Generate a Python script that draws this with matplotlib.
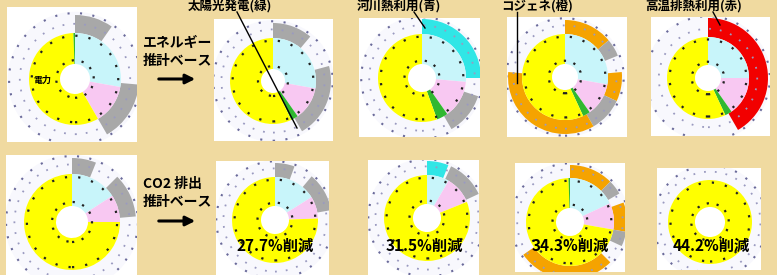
import matplotlib
matplotlib.use("Agg")
import matplotlib.pyplot as plt
from matplotlib.patches import Circle

plt.rcParams['font.family'] = ['Noto Sans CJK JP', 'DejaVu Sans']

W, H = 777, 275
BG = '#F0DAA0'

# ---------------- data ----------------
# inner ring, degrees clockwise from 12 o'clock, order: lightblue, pink, green, yellow, green
inner_keys = ['B', 'P', 'G', 'Y', 'G']
inner_e0 = [100, 50, 0, 208, 2]
inner_e1 = [100, 45, 10, 205, 0]
inner_e2 = [95, 50, 15, 200, 0]
inner_e3 = [100, 45, 10, 205, 0]
inner_e4 = [90, 55, 10, 205, 0]
inner_c0 = [57, 33, 0, 270, 0]
inner_c1 = [58, 30, 0, 272, 0]
inner_c2 = [30, 38, 0, 292, 0]
inner_c3 = [65, 35, 0, 258, 2]
inner_c4 = [0, 0, 0, 360, 0]

# outer ring segments (degrees) and colours (None = empty)
outer_e0 = [35, 60, 55, 210];            outer_e0_c = ['gray', None, 'gray', None]
outer_e1 = [40, 35, 75, 210];            outer_e1_c = ['gray', None, 'gray', None]
outer_e2 = [90, 18, 42, 210];            outer_e2_c = ['cyan', None, 'gray', None]
outer_e3 = [50, 18, 17, 30, 35, 125, 85]
outer_e3_c = ['orange', 'gray', None, 'orange', 'gray', 'orange', None]
outer_e4 = [150, 210];                   outer_e4_c = ['red', None]
outer_c0 = [22, 23, 40, 275];            outer_c0_c = ['gray', None, 'gray', None]
outer_c1 = [20, 20, 40, 280];            outer_c1_c = ['gray', None, 'gray', None]
outer_c2 = [22, 3, 40, 295];             outer_c2_c = ['cyan', None, 'gray', None]
outer_c3 = [45, 15, 10, 30, 15, 20, 100, 125]
outer_c3_c = ['orange', 'gray', None, 'orange', 'gray', None, 'orange', None]
outer_c4 = [360];                        outer_c4_c = [None]

reductions = ['27.7%削減', '31.5%削減', '34.3%削減', '44.2%削減']
callouts = ['太陽光発電(緑)', '河川熱利用(青)', 'コジェネ(橙)', '高温排熱利用(赤)']
side_labels = ['エネルギー\n推計ベース', 'CO2 排出\n推計ベース']

COL = {'B': '#C8F5FA', 'P': '#F8C8F2', 'G': '#30B830', 'Y': '#FFFF00',
       'gray': '#A8A8A8', 'cyan': '#30E6E6', 'orange': '#F5A300', 'red': '#F20000',
       None: 'none'}

# ---------------- layout (pixels) ----------------
# rect (x0, y0, x1, y1), center (cx, cy), R, hole, outer
panels = [
    ((7, 7, 137, 142), (75, 79), 46, 15, 64, inner_e0, outer_e0, outer_e0_c),
    ((214, 19, 333, 141), (273, 81), 43, 12, 58, inner_e1, outer_e1, outer_e1_c),
    ((359, 18, 480, 137), (422, 78), 44, 14, 59, inner_e2, outer_e2, outer_e2_c),
    ((507, 17, 627, 137), (565, 77), 43, 13, 57, inner_e3, outer_e3, outer_e3_c),
    ((651, 17, 770, 136), (708, 78), 41, 13, 60, inner_e4, outer_e4, outer_e4_c),
    ((6, 155, 137, 275), (72, 222), 48, 16, 64, inner_c0, outer_c0, outer_c0_c),
    ((216, 161, 329, 275), (275, 220), 43, 14, 57, inner_c1, outer_c1, outer_c1_c),
    ((368, 160, 479, 275), (427, 218), 43, 14, 57, inner_c2, outer_c2, outer_c2_c),
    ((515, 163, 625, 272), (570, 222), 44, 14, 57, inner_c3, outer_c3, outer_c3_c),
    ((657, 168, 761, 270), (710, 222), 42, 15, 55, inner_c4, outer_c4, outer_c4_c),
]

fig = plt.figure(figsize=(W / 100, H / 100), dpi=100)
fig.patch.set_facecolor(BG)

for (x0, y0, x1, y1), (cx, cy), R, hole, outer, inner, osegs, ocols in panels:
    ax = fig.add_axes([x0 / W, 1 - y1 / H, (x1 - x0) / W, (y1 - y0) / H])
    # faint outer band
    ax.pie([1], colors=['#F8F8FD'], radius=outer * 1.05, startangle=90,
           wedgeprops=dict(width=outer * 1.05 - R, linewidth=0))
    ax.pie(osegs, colors=[COL[c] for c in ocols], radius=outer, startangle=90,
           counterclock=False, wedgeprops=dict(width=outer - R, linewidth=0))
    ax.pie(inner, colors=[COL[k] for k in inner_keys], radius=R, startangle=90,
           counterclock=False, wedgeprops=dict(width=R - hole, linewidth=0))
    for rr, cc, ls, lw in [(hole * 1.25, '#222222', (0, (1, 3.5)), 1.6),
                           (R * 0.94, '#222222', (0, (1, 5)), 1.6),
                           (R * 1.2, '#9A9AC0', (0, (1, 5)), 1.3),
                           (outer * 1.03, '#6A6A9A', (0, (1, 5)), 1.5)]:
        ax.add_patch(Circle((0, 0), rr, fill=False, ec=cc, ls=ls, lw=lw))
    for p in ax.patches:
        p.set_clip_on(True)
    ax.set_aspect('auto')
    ax.set_xlim(x0 - cx, x1 - cx)
    ax.set_ylim(cy - y1, cy - y0)
    ax.set_frame_on(True)
    ax.set_facecolor('white')
    for s in ax.spines.values():
        s.set_visible(False)
    ax.set_xticks([]); ax.set_yticks([])

ax0 = fig.add_axes([0, 0, 1, 1], zorder=10)
ax0.set_xlim(0, W); ax0.set_ylim(H, 0)
ax0.axis('off')
ax0.patch.set_alpha(0)

# callout labels at the top with leader lines
callout_x = [230, 399, 537, 694]
leaders = [((237, 12), (297, 128)), ((414, 12), (425, 28)),
           ((517, 12), (517, 83)), ((713, 12), (720, 25))]
for t, x, (p, q) in zip(callouts, callout_x, leaders):
    ax0.text(x, 5.5, t, ha='center', va='center', fontsize=9, fontweight='bold', color='black')
    ax0.plot([p[0], q[0]], [p[1], q[1]], color='black', lw=1)

# side labels and arrows
ax0.text(143, 52, side_labels[0], ha='left', va='center', fontsize=10,
         fontweight='bold', linespacing=1.3)
ax0.text(143, 193, side_labels[1], ha='left', va='center', fontsize=10,
         fontweight='bold', linespacing=1.3)
for ya in (79, 221):
    ax0.annotate('', xy=(198, ya), xytext=(156, ya),
                 arrowprops=dict(arrowstyle='-|>', lw=2.2, color='black', mutation_scale=14))

# reductions
for t, x in zip(reductions, [275, 424, 570, 711]):
    ax0.text(x, 246, t, ha='center', va='center', fontsize=11, fontweight='bold')

# small label in first panel
ax0.text(42, 80, '電力', ha='center', va='center', fontsize=6.5, fontweight='bold')

fig.savefig('out.png', dpi=100, facecolor=BG)
